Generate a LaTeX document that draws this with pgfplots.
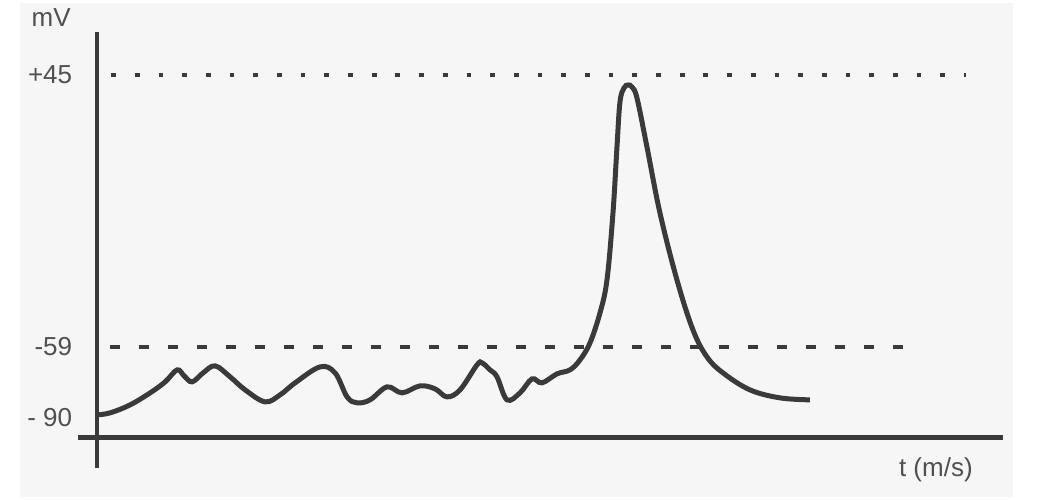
\documentclass[border=0pt]{standalone}
\usepackage{pgfplots}
\pgfplotsset{compat=1.18}
\usepackage{fontspec}
\setmainfont{Liberation Sans}
\definecolor{bg}{HTML}{F6F6F6}
\definecolor{ink}{HTML}{3A3A3A}
\definecolor{txt}{HTML}{505050}
\pgfplotsset{set layers}
\begin{document}
\begin{tikzpicture}
\begin{axis}[
  scale only axis, width=526pt, height=250pt,
  xmin=0, xmax=1052, ymin=0, ymax=500,
  axis line style={draw=none},
  xtick=\empty,
  ytick={425,153,82}, yticklabels={+45,-59,- 90},
  major tick length=0pt,
  yticklabel style={anchor=east, xshift=39.5pt, text=txt, font=\fontsize{13}{15}\selectfont},
  clip=false,
]
\pgfonlayer{axis background}
\fill[bg] (axis cs:20,3) rectangle (axis cs:1013,497);
\endpgfonlayer
% axes
\addplot[ink, line width=2pt] coordinates {(97,468) (97,32)};
\addplot[ink, line width=2.5pt] coordinates {(78,62) (1003,62)};
% reference lines
\addplot[ink, line width=2.4pt, dash pattern=on 2.4pt off 9.45pt] coordinates {(111,425) (966,425)};
\addplot[ink, line width=2.2pt, dash pattern=on 5pt off 9.5pt] coordinates {(110,153) (906,153)};
% membrane potential
\addplot[ink, line width=2.5pt, smooth, tension=0.6] coordinates {
(97,85) (110,87) (130,95) (150,107) (165,118) (177,130) (184,124) (192,118)
(203,127) (215,134) (230,123) (245,110) (265,98) (280,105) (295,117) (320,133)
(335,127) (347,103) (357,97) (370,100) (387,113) (402,107) (420,114) (435,111)
(447,103) (460,110) (477,135) (482,137) (490,130) (497,123) (507,100) (520,107)
(532,121) (542,117) (557,126) (570,130) (580,140) (590,157) (600,187) (607,220)
(613,287) (617,353) (620,398) (624,412) (628,415) (632,413) (637,402) (647,353)
(660,287) (677,220) (693,170) (707,143) (723,127) (750,110) (780,102) (810,100)};
\node[text=txt, font=\fontsize{13}{15}\selectfont] at (axis cs:51,482) {mV};
\node[text=txt, font=\fontsize{13}{15}\selectfont] at (axis cs:936,30) {t (m/s)};
\end{axis}
\end{tikzpicture}
\end{document}
